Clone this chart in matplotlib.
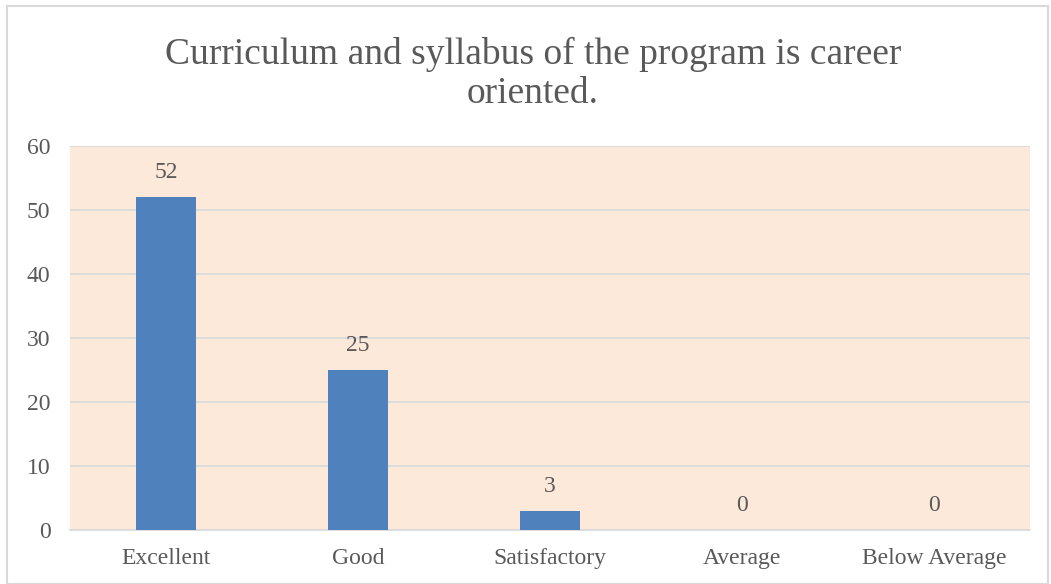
import matplotlib

matplotlib.use("Agg")
import matplotlib.pyplot as plt
from matplotlib.patches import Rectangle

categories = ["Excellent", "Good", "Satisfactory", "Average", "Below Average"]
counts = [52, 25, 3, 0, 0]
y_ticks = [0, 10, 20, 30, 40, 50, 60]

TEXT = "#595959"
GRID = "#D9D9D9"
BAR = "#4F81BD"
PLOT_BG = "#FDE9DA"

plt.rcParams["font.family"] = ["Liberation Serif", "DejaVu Serif"]

W, H = 1051, 584
fig = plt.figure(figsize=(W / 100, H / 100), dpi=100)
fig.patch.set_facecolor("white")

# outer chart border
fig.add_artist(Rectangle((7 / W, 0), (W - 10) / W, (H - 6) / H,
                         transform=fig.transFigure, fill=False,
                         edgecolor=GRID, linewidth=1.5))

left, right, top, bottom = 70, 1030, 146, 530
ax = fig.add_axes([left / W, 1 - bottom / H, (right - left) / W, (bottom - top) / H])
ax.set_facecolor(PLOT_BG)

x = list(range(len(categories)))
ax.bar(x, counts, width=0.3125, color=BAR, zorder=3)
for xi, v in zip(x, counts):
    ax.annotate(str(v), (xi, v), xytext=(0, 10), textcoords="offset points",
                ha="center", va="bottom", fontsize=17, color=TEXT)

ax.set_xlim(-0.5, len(categories) - 0.5)
ax.set_ylim(0, 60)
ax.set_yticks(y_ticks)
ax.set_xticks(x)
ax.set_xticklabels(categories)
ax.tick_params(axis="both", length=0, labelsize=17, colors=TEXT)
ax.tick_params(axis="y", pad=14)
ax.tick_params(axis="x", pad=13)
ax.grid(axis="y", color=GRID, linewidth=1.2, zorder=0)
for s in ["top", "right", "left"]:
    ax.spines[s].set_visible(False)
ax.spines["bottom"].set_color(GRID)
ax.spines["bottom"].set_linewidth(1.2)

fig.text(533 / W, 1 - 74 / H, "Curriculum and syllabus of the program is career\noriented.",
         ha="center", va="center", fontsize=27, color=TEXT, linespacing=1.2)

fig.savefig("out.png", dpi=100, facecolor="white")
